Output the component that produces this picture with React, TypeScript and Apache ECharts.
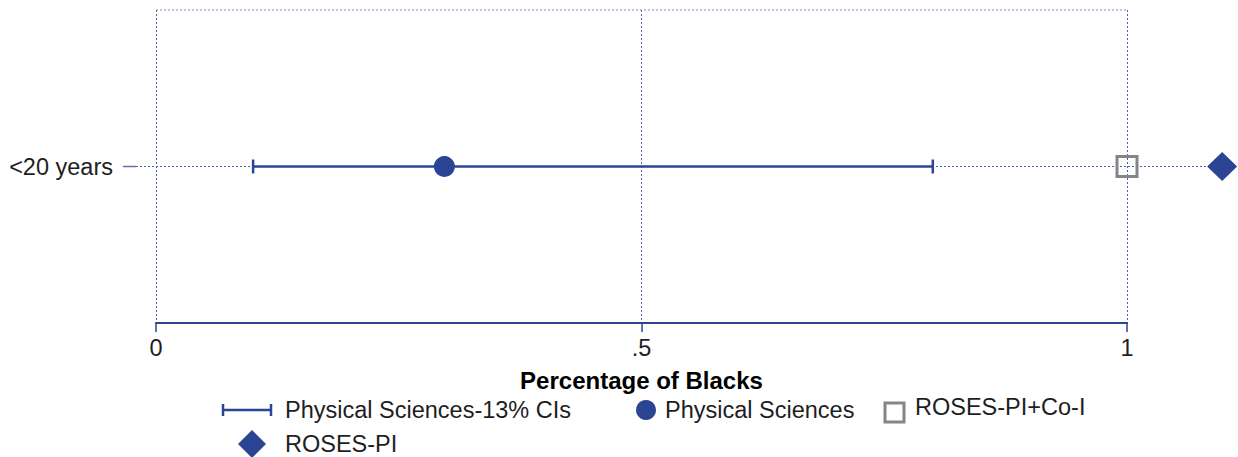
import React, { useEffect, useRef } from 'react';
import * as echarts from 'echarts';

const categories = ['<20 years'];
const ciLow = [0.1];
const ciHigh = [0.8];
const physSci = [0.297];
const rosesPiCoI = [1.0];
const rosesPi = [1.098];
const xTicks = [0, 0.5, 1];
const xTickLabels = ['0', '.5', '1'];
const xTitle = 'Percentage of Blacks';
const legendNames = ['Physical Sciences-13% CIs', 'Physical Sciences', 'ROSES-PI+Co-I', 'ROSES-PI'];

const BLUE = '#2c4494';
const GRID = '#4d5fa6';
const GRAY = '#858585';
const TEXT = '#1e1e1e';
const FONT = '"Liberation Sans", Arial, Helvetica, sans-serif';
const FS = 23.5;

export default function App() {
  const ref = useRef<HTMLDivElement>(null);
  useEffect(() => {
    document.body.style.margin = '0';
    const chart = echarts.init(ref.current!, undefined, { renderer: 'svg' });
    const rows = categories.map((_, i) => i + 1);
    const yMax = categories.length + 1;
    chart.setOption({
      animation: false,
      grid: { left: 156, right: 111, top: 10, bottom: 134, containLabel: false },
      xAxis: {
        type: 'value',
        min: xTicks[0],
        max: xTicks[xTicks.length - 1],
        interval: 0.5,
        name: xTitle,
        nameLocation: 'middle',
        nameGap: 45,
        nameTextStyle: { fontSize: 24, fontWeight: 'bold', color: '#000', fontFamily: FONT },
        axisLine: { show: true, lineStyle: { color: BLUE, width: 2 } },
        axisTick: { show: true, length: 9, lineStyle: { color: BLUE, width: 1.5 } },
        axisLabel: {
          fontSize: FS, color: TEXT, fontFamily: FONT, margin: 13,
          formatter: (v: number) => xTickLabels[xTicks.indexOf(v)] ?? '',
        },
        splitLine: { show: true, lineStyle: { color: GRID, type: [2, 2], width: 1 } },
      },
      yAxis: {
        type: 'value',
        min: 0,
        max: yMax,
        interval: 1,
        offset: 20,
        axisLine: { show: false },
        axisTick: { show: false },
        axisLabel: {
          show: true, customValues: rows, fontSize: FS, color: TEXT, fontFamily: FONT, margin: 23,
          formatter: (v: number) => categories[v - 1] ?? '',
        },
        splitLine: { show: false },
      },
      series: [
        {
          name: legendNames[0],
          type: 'custom',
          clip: false,
          data: categories.map((_, i) => [ciLow[i], ciHigh[i], rows[i]]),
          encode: { x: [0, 1], y: 2 },
          renderItem: (params: any, api: any) => {
            const a = api.coord([api.value(0), api.value(2)]);
            const b = api.coord([api.value(1), api.value(2)]);
            const h = 7;
            const st = { stroke: BLUE, lineWidth: 2.5 };
            return {
              type: 'group',
              children: [
                { type: 'line', shape: { x1: a[0], y1: a[1], x2: b[0], y2: b[1] }, style: st },
                { type: 'line', shape: { x1: a[0], y1: a[1] - h, x2: a[0], y2: a[1] + h }, style: st },
                { type: 'line', shape: { x1: b[0], y1: b[1] - h, x2: b[0], y2: b[1] + h }, style: st },
              ],
            };
          },
          z: 3,
        },
        {
          name: legendNames[1],
          type: 'scatter',
          symbol: 'circle',
          symbolSize: 21,
          clip: false,
          itemStyle: { color: BLUE, opacity: 1 },
          data: categories.map((_, i) => [physSci[i], rows[i]]),
          z: 4,
        },
        {
          name: legendNames[2],
          type: 'scatter',
          symbol: 'rect',
          symbolSize: 20,
          clip: false,
          itemStyle: { color: 'rgba(0,0,0,0)', borderColor: GRAY, borderWidth: 3, opacity: 1 },
          data: categories.map((_, i) => [rosesPiCoI[i], rows[i]]),
          z: 4,
        },
        {
          name: legendNames[3],
          type: 'scatter',
          symbol: 'diamond',
          symbolSize: [30, 29],
          clip: false,
          itemStyle: { color: BLUE, opacity: 1 },
          data: categories.map((_, i) => [rosesPi[i], rows[i]]),
          z: 4,
        },
      ],
    });

    const gridStyle = { stroke: GRID, lineWidth: 1, lineDash: [2, 2] };
    const g: any[] = [];
    const tl = chart.convertToPixel({ gridIndex: 0 }, [xTicks[0], yMax]) as number[];
    const tr = chart.convertToPixel({ gridIndex: 0 }, [xTicks[xTicks.length - 1], yMax]) as number[];
    g.push({ type: 'line', shape: { x1: tl[0], y1: tl[1], x2: tr[0], y2: tr[1] }, style: { ...gridStyle, stroke: '#7c8cc6' }, z: 1 });
    rows.forEach((r, i) => {
      const p0 = chart.convertToPixel({ gridIndex: 0 }, [xTicks[0], r]) as number[];
      const p1 = chart.convertToPixel({ gridIndex: 0 }, [rosesPi[i], r]) as number[];
      g.push({ type: 'line', shape: { x1: p0[0] - 20, y1: p0[1], x2: p1[0] - 12, y2: p1[1] }, style: gridStyle, z: 1 });
      g.push({ type: 'line', shape: { x1: p0[0] - 33, y1: p0[1], x2: p0[0] - 20, y2: p0[1] }, style: { stroke: '#6272b4', lineWidth: 1.5 }, z: 1 });
    });

    const ly1 = 410;
    const ly2 = 444;
    const ts = (x: number, y: number, t: string) => ({
      type: 'text', x, y,
      style: { text: t, fontSize: FS, fill: TEXT, fontFamily: FONT, verticalAlign: 'middle', align: 'left' },
    });
    const ls = { stroke: BLUE, lineWidth: 2.5 };
    g.push({ type: 'line', shape: { x1: 222, y1: ly1, x2: 272, y2: ly1 }, style: ls });
    g.push({ type: 'line', shape: { x1: 223, y1: ly1 - 6, x2: 223, y2: ly1 + 6 }, style: ls });
    g.push({ type: 'line', shape: { x1: 271, y1: ly1 - 6, x2: 271, y2: ly1 + 6 }, style: ls });
    g.push(ts(285, ly1, legendNames[0]));
    g.push({ type: 'circle', shape: { cx: 646, cy: ly1, r: 10 }, style: { fill: BLUE } });
    g.push(ts(665, ly1, legendNames[1]));
    g.push({ type: 'rect', shape: { x: 885, y: 403, width: 19, height: 19 }, style: { fill: 'none', stroke: GRAY, lineWidth: 3 } });
    g.push(ts(915, 407, legendNames[2]));
    g.push({ type: 'polygon', shape: { points: [[252, ly2 - 14], [266, ly2], [252, ly2 + 14], [238, ly2]] }, style: { fill: BLUE } });
    g.push(ts(285, ly2, legendNames[3]));

    chart.setOption({ graphic: g });
    return () => chart.dispose();
  }, []);
  return <div ref={ref} style={{ width: 1238, height: 457 }} />;
}
